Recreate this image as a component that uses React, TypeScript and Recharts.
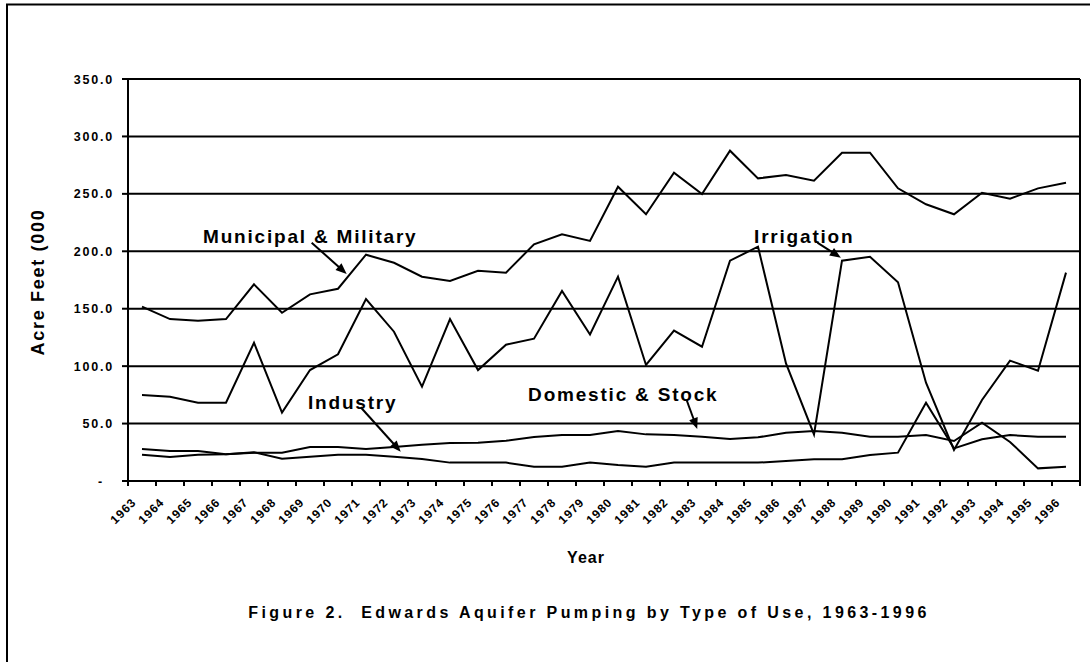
import {
  LineChart,
  Line,
  XAxis,
  YAxis,
  CartesianGrid,
  ReferenceLine,
  ReferenceDot,
} from 'recharts'

const years = [
  1963, 1964, 1965, 1966, 1967, 1968, 1969, 1970, 1971, 1972, 1973, 1974,
  1975, 1976, 1977, 1978, 1979, 1980, 1981, 1982, 1983, 1984, 1985, 1986,
  1987, 1988, 1989, 1990, 1991, 1992, 1993, 1994, 1995, 1996,
]

const municipal = [
  151.8, 141, 139.6, 141, 171.2, 146.5, 162.5, 167.4, 197, 190, 177.9, 174.1,
  183.1, 181.4, 206, 214.8, 209, 256.2, 232.2, 268.4, 249.9, 287.6, 263.5,
  266.4, 261.5, 285.8, 285.8, 254.8, 240.9, 232.2, 251, 245.8, 254.8, 259.7,
]

const irrigation = [
  74.9, 73.4, 68.2, 68.2, 120.4, 59.5, 96.6, 110.3, 158.4, 130, 82.1, 141,
  96.6, 118.7, 123.9, 165.4, 127.5, 177.9, 101, 130.9, 116.9, 191.8, 204,
  102.4, 40.6, 191.8, 195.3, 173, 85.6, 27, 70.5, 104.8, 96, 181.4,
]

const domestic = [
  27.9, 26.1, 26.1, 23.2, 24.5, 24.7, 29.6, 29.6, 27.9, 29.6, 31.6, 33.1,
  33.4, 35.1, 38.3, 40, 40, 43.5, 40.6, 40, 38.6, 36.6, 38, 42, 43.5, 42,
  38.6, 38.6, 40, 34.8, 50.8, 34, 11, 12.5,
]

const industry = [
  22.9, 20.9, 22.9, 23.2, 25, 19.4, 21.2, 22.9, 22.9, 21.2, 19.1, 16, 16, 16,
  12.5, 12.5, 16.2, 13.9, 12.5, 16, 16, 16, 16, 17.4, 18.9, 18.9, 22.6, 24.7,
  68.2, 28.4, 36.3, 40, 38.6, 38.6,
]

const yTicks = [0, 50, 100, 150, 200, 250, 300, 350]

// callouts, in data units (year, acre feet)
const labels = [
  { text: 'Municipal & Military', x: 1965.18, y: 207 },
  { text: 'Irrigation', x: 1984.86, y: 207 },
  { text: 'Industry', x: 1968.93, y: 62.4 },
  { text: 'Domestic & Stock', x: 1976.79, y: 69.9 },
]

const arrows = [
  { from: { x: 1969.06, y: 207.5 }, to: { x: 1970.31, y: 180.2 } },
  { from: { x: 1987.12, y: 207.5 }, to: { x: 1987.96, y: 194.4 } },
  { from: { x: 1970.81, y: 64.2 }, to: { x: 1972.24, y: 25.5 } },
  { from: { x: 1982.45, y: 70.5 }, to: { x: 1982.83, y: 45.3 } },
]

const rows = years.map((year, i) => ({
  year,
  municipal: municipal[i],
  irrigation: irrigation[i],
  domestic: domestic[i],
  industry: industry[i],
}))

const FONT = '"Liberation Sans", Arial, sans-serif'
const HALF_BAND = 14

function XTick({ x, y, payload }: any) {
  const last = payload.value === years[years.length - 1]
  return (
    <g>
      <line x1={x - HALF_BAND} y1={y} x2={x - HALF_BAND} y2={y + 5} stroke="#000" strokeWidth={2} />
      {last && (
        <line x1={x + HALF_BAND} y1={y} x2={x + HALF_BAND} y2={y + 5} stroke="#000" strokeWidth={2} />
      )}
      <text
        transform={`translate(${x - 5},${y + 22}) rotate(-45)`}
        textAnchor="end"
        fontFamily={FONT}
        fontWeight="bold"
        fontSize={12}
        letterSpacing={1}
        fill="#000"
      >
        {payload.value}
      </text>
    </g>
  )
}

function YTick({ x, y, payload }: any) {
  const v = payload.value
  return (
    <text
      x={v === 0 ? x - 10 : x}
      y={y}
      dy="0.36em"
      textAnchor="end"
      fontFamily={FONT}
      fontWeight="bold"
      fontSize={12.5}
      letterSpacing={1.8}
      fill="#000"
    >
      {v === 0 ? '-' : v.toFixed(1)}
    </text>
  )
}

function Arrow({ x1, y1, x2, y2 }: any) {
  const dx = x2 - x1
  const dy = y2 - y1
  const len = Math.sqrt(dx * dx + dy * dy) || 1
  const ux = dx / len
  const uy = dy / len
  const hl = 11
  const hw = 4.5
  const bx = x2 - ux * hl
  const by = y2 - uy * hl
  return (
    <g>
      <line x1={x1} y1={y1} x2={bx + ux * 2} y2={by + uy * 2} stroke="#000" strokeWidth={2} />
      <polygon
        points={`${x2},${y2} ${bx - uy * hw},${by + ux * hw} ${bx + uy * hw},${by - ux * hw}`}
        fill="#000"
      />
    </g>
  )
}

function CalloutText(text: string) {
  return (p: any) => (
    <text
      x={p.cx}
      y={p.cy}
      fontFamily={FONT}
      fontWeight="bold"
      fontSize={19}
      letterSpacing={1.8}
      fill="#000"
    >
      {text}
    </text>
  )
}

export default function App() {
  return (
    <div style={{ position: 'absolute', left: 0, top: 0, width: 1090, height: 662, background: '#fff' }}>
      <LineChart
        width={1090}
        height={662}
        data={rows}
        margin={{ top: 79, right: 10, bottom: 121, left: 68 }}
      >
        <CartesianGrid vertical={false} stroke="#000" strokeWidth={2} />
        <XAxis
          type="number"
          dataKey="year"
          domain={[1962.5, 1996.5]}
          ticks={years}
          interval={0}
          allowDecimals
          height={60}
          tickLine={false}
          tickSize={0}
          tickMargin={0}
          axisLine={{ stroke: '#000', strokeWidth: 2 }}
          tick={<XTick />}
        />
        <YAxis
          domain={[0, 350]}
          ticks={yTicks}
          interval={0}
          width={60}
          tickSize={6}
          tickMargin={8}
          axisLine={{ stroke: '#000', strokeWidth: 2 }}
          tickLine={{ stroke: '#000', strokeWidth: 2 }}
          tick={<YTick />}
        />
        <ReferenceLine x={1996.5} stroke="#000" strokeWidth={2} />
        <Line type="linear" dataKey="municipal" stroke="#000" strokeWidth={2} dot={false} isAnimationActive={false} />
        <Line type="linear" dataKey="irrigation" stroke="#000" strokeWidth={2} dot={false} isAnimationActive={false} />
        <Line type="linear" dataKey="domestic" stroke="#000" strokeWidth={2} dot={false} isAnimationActive={false} />
        <Line type="linear" dataKey="industry" stroke="#000" strokeWidth={2} dot={false} isAnimationActive={false} />
        {arrows.map((a, i) => (
          <ReferenceLine key={'a' + i} segment={[a.from, a.to]} shape={Arrow} />
        ))}
        {labels.map((l) => (
          <ReferenceDot key={l.text} x={l.x} y={l.y} r={0} shape={CalloutText(l.text)} />
        ))}
      </LineChart>
      <svg
        width={1090}
        height={662}
        style={{ position: 'absolute', left: 0, top: 0, pointerEvents: 'none' }}
      >
        <path d="M7,662 L7,4.5 L1090,4.5" fill="none" stroke="#000" strokeWidth={2} />
        <text
          transform="translate(44,282) rotate(-90)"
          textAnchor="middle"
          fontFamily={FONT}
          fontWeight="bold"
          fontSize={18}
          letterSpacing={1.7}
        >
          Acre Feet (000
        </text>
        <text x={586} y={563} textAnchor="middle" fontFamily={FONT} fontWeight="bold" fontSize={16} letterSpacing={1}>
          Year
        </text>
        <text
          x={589}
          y={618}
          textAnchor="middle"
          fontFamily={FONT}
          fontWeight="bold"
          fontSize={16}
          letterSpacing={3.4}
          style={{ whiteSpace: 'pre' }}
        >
          Figure 2.  Edwards Aquifer Pumping by Type of Use, 1963-1996
        </text>
      </svg>
    </div>
  )
}
